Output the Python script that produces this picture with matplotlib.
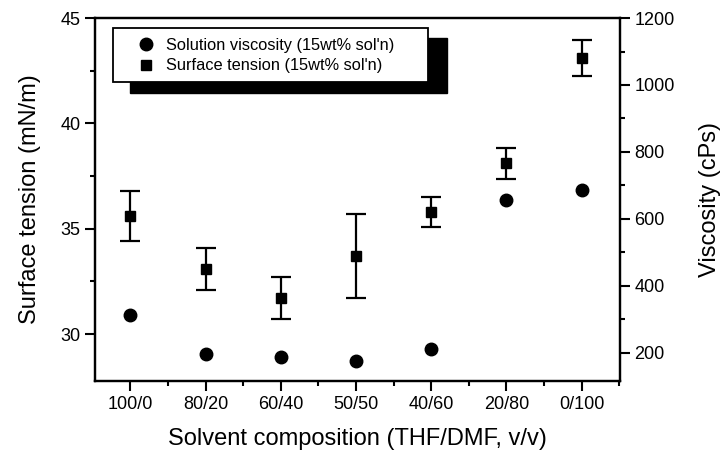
import matplotlib
matplotlib.use("Agg")
import matplotlib.pyplot as plt
from matplotlib.lines import Line2D
from matplotlib.patches import Rectangle
from matplotlib.ticker import MultipleLocator

plt.rcParams['font.family'] = ['Liberation Sans', 'DejaVu Sans']

# data
categories = ['100/0', '80/20', '60/40', '50/50', '40/60', '20/80', '0/100']
surface_tension = [35.6, 33.1, 31.7, 33.7, 35.8, 38.1, 43.1]
surface_err = [1.2, 1.0, 1.0, 2.0, 0.7, 0.75, 0.85]
viscosity = [313, 195, 186, 175, 210, 655, 686]

x = list(range(len(categories)))

fig = plt.figure(figsize=(7.22, 4.63), dpi=100)
ax = fig.add_axes([0.1316, 0.177, 0.7271, 0.784])
ax2 = ax.twinx()

# surface tension (left axis) with error bars
ax.errorbar(x, surface_tension, yerr=surface_err, fmt='s', color='black',
            markersize=7.5, elinewidth=1.6, capsize=7, capthick=1.6)
# viscosity (right axis)
ax2.plot(x, viscosity, 'o', color='black', markersize=9)

ax.set_xlim(-0.47, 6.51)
ax.set_ylim(27.77, 45)
ax2.set_ylim(115, 1200)

ax.set_xticks(x)
ax.set_xticklabels(categories)
ax.xaxis.set_minor_locator(MultipleLocator(1, offset=0.5))
ax.yaxis.set_major_locator(MultipleLocator(5))
ax.yaxis.set_minor_locator(MultipleLocator(2.5))
ax2.yaxis.set_minor_locator(MultipleLocator(100))
ax2.set_yticks([200, 400, 600, 800, 1000, 1200])

for a in (ax, ax2):
    a.tick_params(which='major', direction='out', length=7, width=1.5, labelsize=13)
    a.tick_params(which='minor', direction='out', length=3.5, width=1.5)
    for s in a.spines.values():
        s.set_linewidth(1.6)

ax.set_xlabel('Solvent composition (THF/DMF, v/v)', fontsize=17, labelpad=11)
ax.set_ylabel('Surface tension (mN/m)', fontsize=17, labelpad=14)
ax2.set_ylabel('Viscosity (cPs)', fontsize=17, labelpad=17)

# legend box with solid black shadow
ax2.add_patch(Rectangle((0.0667, 0.7934), 0.604, 0.1515, transform=ax2.transAxes,
                        facecolor='black', edgecolor='black', zorder=4, clip_on=False))
ax2.add_patch(Rectangle((0.034, 0.8237), 0.6, 0.1488, transform=ax2.transAxes,
                        facecolor='white', edgecolor='black', linewidth=1.3, zorder=5,
                        clip_on=False))

handles = [
    Line2D([], [], marker='o', linestyle='none', color='black', markersize=9),
    Line2D([], [], marker='s', linestyle='none', color='black', markersize=7.5),
]
labels = ["Solution viscosity (15wt% sol'n)", "Surface tension (15wt% sol'n)"]
leg = ax2.legend(handles, labels, loc='upper left', bbox_to_anchor=(0.065, 0.969),
                 frameon=False, borderpad=0, handlelength=1.0, handletextpad=0.75,
                 labelspacing=0.35, fontsize=11.8)
leg.set_zorder(6)

fig.savefig('out.png', dpi=100)
